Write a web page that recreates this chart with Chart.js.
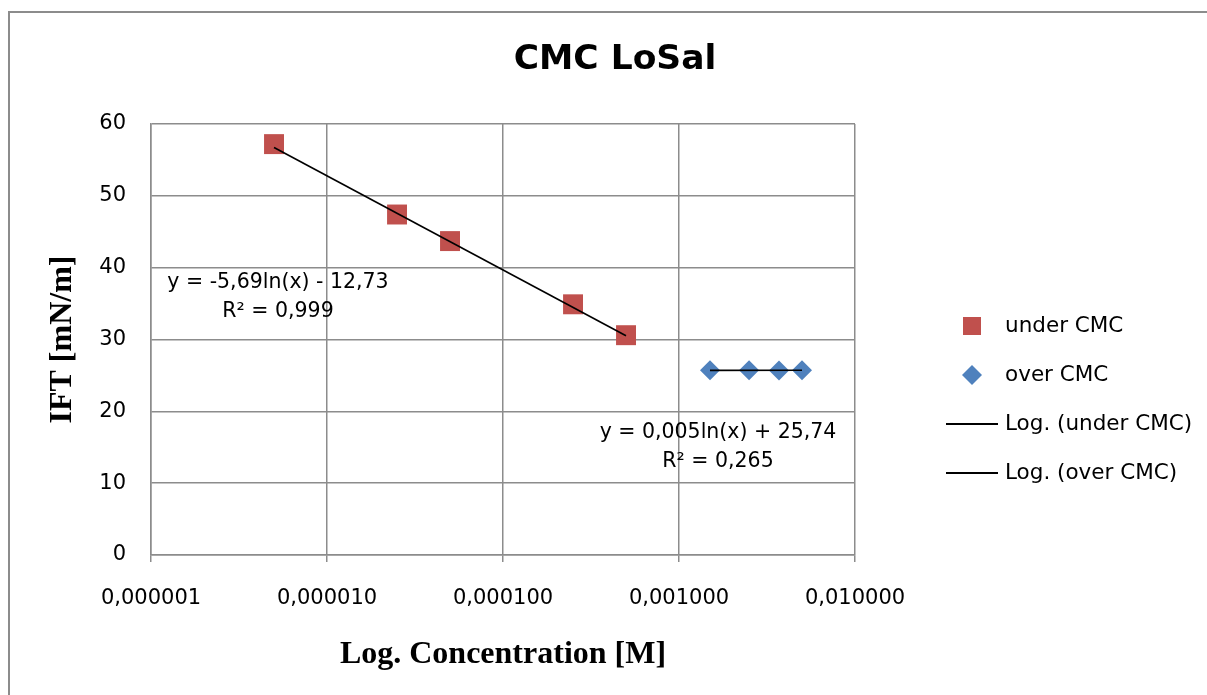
<!DOCTYPE html>
<html>
<head>
<meta charset="utf-8">
<title>CMC LoSal</title>
<script src="https://cdn.jsdelivr.net/npm/chart.js@4/dist/chart.umd.min.js"></script>
<style>
  html, body { margin: 0; padding: 0; background: #fff; }
  #wrap { width: 1207px; height: 695px; position: relative; }
</style>
</head>
<body>
<div id="wrap"><canvas id="graficoCmc"></canvas></div>
<script>
// Medições de IFT abaixo e acima da CMC
const underConc = [0.000005, 0.000025, 0.00005, 0.00025, 0.0005];
const underIft = [57.2, 47.4, 43.7, 34.9, 30.6];
const overConc = [0.0015, 0.0025, 0.0037, 0.005];
const overIft = [25.71, 25.72, 25.70, 25.73];

// Ajustes logarítmicos: y = a*ln(x) + b
const underFit = [-5.69, -12.73];
const overFit = [0.005, 25.74];
const underFitText = ['y = -5,69ln(x) - 12,73', 'R² = 0,999'];
const overFitText = ['y = 0,005ln(x) + 25,74', 'R² = 0,265'];

const xTicks = [0.000001, 0.00001, 0.0001, 0.001, 0.01];
const yTicks = [0, 10, 20, 30, 40, 50, 60];

const seriesNames = ['under CMC', 'over CMC', 'Log. (under CMC)', 'Log. (over CMC)'];
const chartTitle = 'CMC LoSal';

const SANS = "'DejaVu Sans', sans-serif";
const SERIF = "'Liberation Serif', 'Times New Roman', serif";
const GRID = '#8c8c8c';

function pontos(xs, ys) {
  return xs.map((x, i) => ({ x: x, y: ys[i] }));
}

// linha de tendência entre o primeiro e o último ponto da série
function tendencia(xs, fit) {
  const ini = xs[0], fim = xs[xs.length - 1];
  return [ini, fim].map(x => ({ x: x, y: fit[0] * Math.log(x) + fit[1] }));
}

// moldura externa e título
const moldura = {
  id: 'moldura',
  beforeDraw(chart) {
    const ctx = chart.ctx;
    ctx.save();
    ctx.strokeStyle = '#8c8c8c';
    ctx.lineWidth = 2;
    ctx.strokeRect(9, 12, 1400, 900);
    ctx.fillStyle = '#000';
    ctx.font = 'bold 34.5px ' + SANS;
    ctx.textAlign = 'center';
    ctx.textBaseline = 'middle';
    ctx.fillText(chartTitle, 615, 60);
    ctx.restore();
  }
};

// equações das linhas de tendência
const equacoes = {
  id: 'equacoes',
  afterDatasetsDraw(chart) {
    const ctx = chart.ctx;
    ctx.save();
    ctx.font = '20.5px ' + SANS;
    ctx.fillStyle = '#000';
    ctx.textAlign = 'center';
    ctx.textBaseline = 'middle';
    ctx.fillText(underFitText[0], 278, 283);
    ctx.fillText(underFitText[1], 278, 312);
    ctx.fillText(overFitText[0], 718, 433);
    ctx.fillText(overFitText[1], 718, 462);
    ctx.restore();
  }
};

// legenda à direita
const legenda = {
  id: 'legenda',
  afterDraw(chart) {
    const ctx = chart.ctx;
    const ds = chart.data.datasets;
    const mx = 972, tx = 1005, y0 = 326, passo = 49;
    ctx.save();
    ds.forEach((d, i) => {
      const y = y0 + i * passo;
      if (d.pointStyle === 'rect') {
        ctx.fillStyle = d.backgroundColor;
        ctx.fillRect(mx - 9, y - 9, 18, 18);
      } else if (d.pointStyle === 'rectRot') {
        ctx.fillStyle = d.backgroundColor;
        ctx.beginPath();
        ctx.moveTo(mx, y - 10);
        ctx.lineTo(mx + 10, y);
        ctx.lineTo(mx, y + 10);
        ctx.lineTo(mx - 10, y);
        ctx.closePath();
        ctx.fill();
      } else {
        ctx.strokeStyle = d.borderColor;
        ctx.lineWidth = 2;
        ctx.beginPath();
        ctx.moveTo(946, y);
        ctx.lineTo(998, y);
        ctx.stroke();
      }
      ctx.fillStyle = '#000';
      ctx.font = '21.5px ' + SANS;
      ctx.textAlign = 'left';
      ctx.textBaseline = 'middle';
      ctx.fillText(d.label, tx, y);
    });
    ctx.restore();
  }
};

const ctx = document.getElementById('graficoCmc').getContext('2d');
new Chart(ctx, {
  type: 'scatter',
  data: {
    datasets: [
      {
        label: seriesNames[0],
        data: pontos(underConc, underIft),
        pointStyle: 'rect',
        pointRadius: 14.1,
        pointHoverRadius: 14.1,
        backgroundColor: '#C0504D',
        borderColor: '#C0504D',
        borderWidth: 0,
        order: 2
      },
      {
        label: seriesNames[1],
        data: pontos(overConc, overIft),
        pointStyle: 'rectRot',
        pointRadius: 10,
        pointHoverRadius: 10,
        backgroundColor: '#4F81BD',
        borderColor: '#4F81BD',
        borderWidth: 0,
        order: 2
      },
      {
        label: seriesNames[2],
        data: tendencia(underConc, underFit),
        showLine: true,
        pointRadius: 0,
        borderColor: '#000',
        borderWidth: 1.6,
        order: 1
      },
      {
        label: seriesNames[3],
        data: tendencia(overConc, overFit),
        showLine: true,
        pointRadius: 0,
        borderColor: '#000',
        borderWidth: 1.6,
        order: 1
      }
    ]
  },
  options: {
    responsive: true,
    maintainAspectRatio: false,
    animation: false,
    layout: { padding: { left: 0, right: 352, top: 124, bottom: 0 } },
    plugins: {
      legend: { display: false },
      tooltip: { enabled: false },
      title: { display: false }
    },
    scales: {
      x: {
        type: 'logarithmic',
        min: xTicks[0],
        max: xTicks[xTicks.length - 1],
        afterBuildTicks(scale) {
          scale.ticks = xTicks.map(v => ({ value: v }));
        },
        afterFit(scale) {
          scale.height = 140;
          scale.paddingLeft = 0;
          scale.paddingRight = 0;
        },
        grid: { color: GRID, lineWidth: 1.5, tickLength: 7, tickColor: GRID },
        border: { color: GRID, width: 1.5 },
        ticks: {
          color: '#000',
          font: { family: SANS, size: 21 },
          padding: 24,
          maxRotation: 0,
          autoSkip: false,
          callback: v => v.toFixed(6).replace('.', ',')
        },
        title: {
          display: true,
          text: 'Log. Concentration [M]',
          color: '#000',
          font: { family: SERIF, size: 32, weight: 'bold' },
          padding: { top: 0, bottom: 21 }
        }
      },
      y: {
        min: yTicks[0],
        max: yTicks[yTicks.length - 1],
        afterBuildTicks(scale) {
          scale.ticks = yTicks.map(v => ({ value: v }));
        },
        afterFit(scale) {
          scale.width = 151;
          scale.paddingTop = 0;
          scale.paddingBottom = 0;
        },
        grid: { color: GRID, lineWidth: 1.5, drawTicks: false },
        border: { color: GRID, width: 1.5 },
        ticks: {
          color: '#000',
          font: { family: SANS, size: 21 },
          padding: 25
        },
        title: {
          display: true,
          text: 'IFT [mN/m]',
          color: '#000',
          font: { family: SERIF, size: 32, weight: 'bold' },
          padding: { top: 44, bottom: 0 }
        }
      }
    }
  },
  plugins: [moldura, equacoes, legenda]
});
</script>
</body>
</html>
